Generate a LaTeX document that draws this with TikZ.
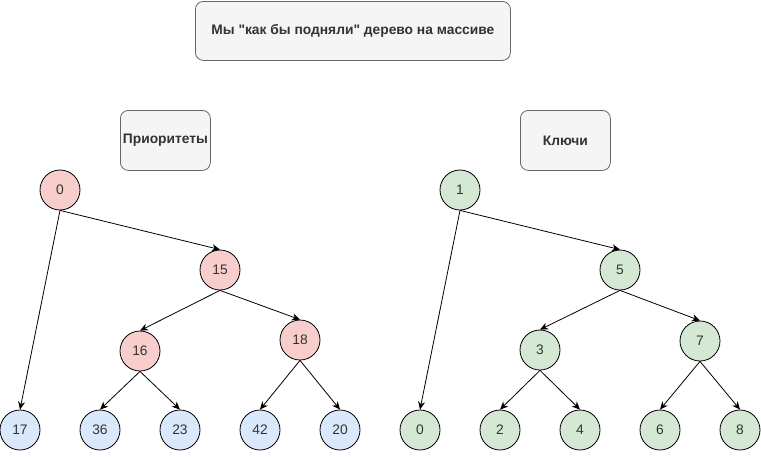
\documentclass[tikz,border=0pt]{standalone}
\usepackage{fontspec}
\setmainfont{Liberation Sans}[Ligatures=TeXOff]
\usetikzlibrary{arrows.meta}
\definecolor{boxfill}{HTML}{F5F5F5}
\definecolor{boxline}{HTML}{666666}
\definecolor{txt}{HTML}{333333}
\definecolor{pinkfill}{HTML}{F8CECC}
\definecolor{bluefill}{HTML}{DAE8FC}
\definecolor{greenfill}{HTML}{D5E8D4}
\tikzset{
  labelbox/.style={draw=boxline, fill=boxfill, rounded corners=8pt, line width=0.8pt,
    text=txt, font=\fontsize{13.8}{16}\selectfont\bfseries, inner sep=0pt, anchor=north west},
  vert/.style={circle, draw=black, line width=0.8pt, minimum size=40pt, inner sep=0pt,
    text=txt, font=\fontsize{13.8}{16}\selectfont},
  prio/.style={vert, fill=pinkfill},
  leafp/.style={vert, fill=bluefill},
  keyv/.style={vert, fill=greenfill},
  edge/.style={draw=black, line width=0.8pt, -{Stealth[length=8pt,width=7pt,inset=2.5pt]}}
}
\begin{document}
\begin{tikzpicture}[x=1pt, y=-1pt]
\useasboundingbox (0,0) rectangle (761,459);

% headings
\node[labelbox, minimum width=315pt, minimum height=59pt] (title) at (195,1)
  {Мы "как бы подняли" дерево на массиве};
\node[labelbox, minimum width=90pt, minimum height=60pt] (prlabel) at (120,110) {Приоритеты};
\node[labelbox, minimum width=90pt, minimum height=60pt] (keylabel) at (520,110) {Ключи};

% priorities tree
\node[prio] (p0) at (60,190) {0};
\node[prio] (p15) at (220,270) {15};
\node[prio] (p16) at (140,351) {16};
\node[prio] (p18) at (300,340) {18};
\node[leafp] (p17) at (20,430) {17};
\node[leafp] (p36) at (100,430) {36};
\node[leafp] (p23) at (180,430) {23};
\node[leafp] (p42) at (260,430) {42};
\node[leafp] (p20) at (340,430) {20};

\draw[edge] (p0.south) -- (p17.north);
\draw[edge] (p0.south) -- (p15.north);
\draw[edge] (p15.south) -- (p16.north);
\draw[edge] (p15.south) -- (p18.north);
\draw[edge] (p16.south) -- (p36.north);
\draw[edge] (p16.south) -- (p23.north);
\draw[edge] (p18.south) -- (p42.north);
\draw[edge] (p18.south) -- (p20.north);

% keys tree
\node[keyv] (k1) at (460,190) {1};
\node[keyv] (k5) at (620,270) {5};
\node[keyv] (k3) at (540,350) {3};
\node[keyv] (k7) at (700,341) {7};
\node[keyv] (k0) at (420,430) {0};
\node[keyv] (k2) at (500,430) {2};
\node[keyv] (k4) at (580,430) {4};
\node[keyv] (k6) at (660,430) {6};
\node[keyv] (k8) at (740,430) {8};

\draw[edge] (k1.south) -- (k0.north);
\draw[edge] (k1.south) -- (k5.north);
\draw[edge] (k5.south) -- (k3.north);
\draw[edge] (k5.south) -- (k7.north);
\draw[edge] (k3.south) -- (k2.north);
\draw[edge] (k3.south) -- (k4.north);
\draw[edge] (k7.south) -- (k6.north);
\draw[edge] (k7.south) -- (k8.north);
\end{tikzpicture}
\end{document}
